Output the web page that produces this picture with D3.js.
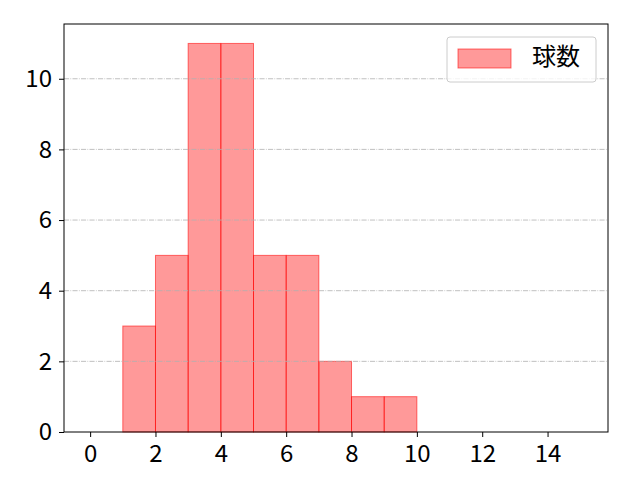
<!DOCTYPE html>
<html>
<head>
<meta charset="utf-8">
<script src="https://cdn.jsdelivr.net/npm/d3@7"></script>
<style>
  body { margin: 0; background: #fff; }
</style>
</head>
<body>
<div id="chart"></div>
<script>
// ヒストグラムのデータ（ビンの左端・右端と度数）
const binStarts = [1, 2, 3, 4, 5, 6, 7, 8, 9];
const binEnds   = [2, 3, 4, 5, 6, 7, 8, 9, 10];
const counts    = [3, 5, 11, 11, 5, 5, 2, 1, 1];
const xTicks = [0, 2, 4, 6, 8, 10, 12, 14];
const yTicks = [0, 2, 4, 6, 8, 10];
const seriesName = "球数";

const width = 640, height = 480;
const margin = { left: 64, right: 32, top: 24, bottom: 48 };
const fontFamily = "Noto Sans CJK JP, Noto Sans, sans-serif";
const fontSize = 24;

const svg = d3.select("#chart").append("svg")
  .attr("width", width).attr("height", height);

const x = d3.scaleLinear().domain([-0.8, 15.85]).range([margin.left, width - margin.right]);
const y = d3.scaleLinear().domain([0, 11.55]).range([height - margin.bottom, margin.top]);

// 棒
svg.append("g")
  .selectAll("rect")
  .data(counts)
  .join("rect")
    .attr("x", (d, i) => x(binStarts[i]))
    .attr("y", d => y(d))
    .attr("width", (d, i) => x(binEnds[i]) - x(binStarts[i]))
    .attr("height", d => y(0) - y(d))
    .attr("fill", "rgba(255,0,0,0.4)")
    .attr("stroke", "rgba(255,0,0,0.55)")
    .attr("stroke-width", 1);

// グリッド線（y方向のみ）
svg.append("g")
  .selectAll("line")
  .data(yTicks.filter(d => d > 0))
  .join("line")
    .attr("x1", margin.left).attr("x2", width - margin.right)
    .attr("y1", d => y(d)).attr("y2", d => y(d))
    .attr("stroke", "#b0b0b0")
    .attr("stroke-width", 0.8)
    .attr("stroke-dasharray", "5.1,1.3,0.8,1.3");

// 軸
const xAxis = svg.append("g")
  .attr("transform", `translate(0,${height - margin.bottom})`)
  .call(d3.axisBottom(x).tickValues(xTicks).tickSize(5).tickPadding(8));
const yAxis = svg.append("g")
  .attr("transform", `translate(${margin.left},0)`)
  .call(d3.axisLeft(y).tickValues(yTicks).tickSize(5).tickPadding(7));

[xAxis, yAxis].forEach(g => {
  g.attr("font-family", fontFamily).attr("font-size", fontSize);
  g.select(".domain").remove();
  g.selectAll(".tick line").attr("stroke", "#000").attr("stroke-width", 1);
  g.selectAll(".tick text").attr("fill", "#000");
});

// 枠
svg.append("rect")
  .attr("x", margin.left).attr("y", margin.top)
  .attr("width", width - margin.left - margin.right)
  .attr("height", height - margin.top - margin.bottom)
  .attr("fill", "none")
  .attr("stroke", "#000")
  .attr("stroke-width", 1);

// 凡例
const legend = svg.append("g").attr("transform", "translate(447,37)");
legend.append("rect")
  .attr("width", 149).attr("height", 45)
  .attr("rx", 3)
  .attr("fill", "rgba(255,255,255,0.8)")
  .attr("stroke", "#cccccc");
legend.append("rect")
  .attr("x", 11).attr("y", 12)
  .attr("width", 53).attr("height", 19)
  .attr("fill", "rgba(255,0,0,0.4)")
  .attr("stroke", "rgba(255,0,0,0.55)");
legend.append("text")
  .attr("x", 85).attr("y", 28)
  .attr("font-family", fontFamily)
  .attr("font-size", fontSize)
  .attr("fill", "#000")
  .text(seriesName);
</script>
</body>
</html>
